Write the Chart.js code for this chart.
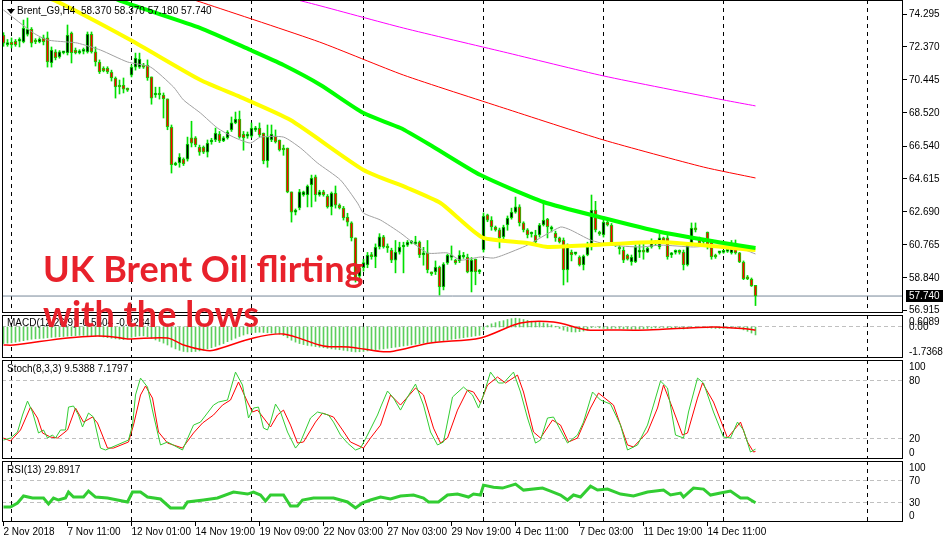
<!DOCTYPE html>
<html lang="en">
<head>
<meta charset="UTF-8" />
<title>Brent_G9,H4</title>
<script src="https://cdn.jsdelivr.net/npm/chart.js"></script>
<style>
  * { box-sizing: border-box; }
  html, body { margin: 0; padding: 0; background: #fff; }
  #wrap {
    position: relative; width: 943px; height: 542px; overflow: hidden; background: #fff;
    font-family: 'Liberation Sans', Arial, sans-serif; font-size: 10px; color: #000;
  }
  canvas { position: absolute; left: 0; }
  .ttl { position: absolute; left: 7px; white-space: nowrap; line-height: 12px; z-index: 2; }
  .tri { position: absolute; left: 7px; top: 9px; width: 0; height: 0; z-index: 2;
    border-left: 4px solid transparent; border-right: 4px solid transparent; border-top: 5px solid #000; }
  .big { position: absolute; z-index: 3; white-space: nowrap; line-height: 36px;
    font-family: Lato, 'Open Sans', sans-serif; font-weight: 700; font-size: 36px; color: #e8212b; }
</style>
</head>
<body>
<div id="wrap">
  <canvas id="cMain" width="943" height="314" style="top:0"></canvas>
  <canvas id="cMacd" width="943" height="43" style="top:315px"></canvas>
  <canvas id="cStoch" width="943" height="99" style="top:360px"></canvas>
  <canvas id="cRsi" width="943" height="81" style="top:461px"></canvas>

  <div class="tri"></div>
  <div class="ttl" style="left:17px; top:5px">Brent_G9,H4&nbsp; 58.370 58.370 57.180 57.740</div>
  <div class="ttl" style="top:317px">MACD(12,26,9) -0.5504 -0.2284</div>
  <div class="ttl" style="top:363px">Stoch(8,3,3) 9.5388 7.1797</div>
  <div class="ttl" style="top:464px">RSI(13) 29.8917</div>

  <div class="big" style="left:43px; top:250px">UK Brent Oil flirting</div>
  <div class="big" style="left:43px; top:295px">with the lows</div>
</div>

<script>
// ---- price candles (H4), bar index 0..188 ----
const candleO = [
  73.06, 72.50, 72.65, 72.71, 72.70, 72.65, 73.10, 73.41, 72.77, 72.65,
  72.89, 72.89, 71.42, 72.07, 71.77, 72.01, 72.01, 73.18, 72.18, 72.01,
  72.10, 72.07, 73.12, 72.07, 71.48, 71.12, 71.12, 70.89, 70.54, 70.13,
  70.13, 69.89, 70.71, 71.18, 71.18, 71.30, 71.30, 70.60, 69.54, 69.66,
  69.54, 69.31, 67.66, 65.43, 65.55, 65.78, 65.78, 67.02, 67.02, 66.49,
  66.49, 66.19, 66.78, 66.90, 67.25, 66.84, 67.02, 67.49, 67.90, 68.13,
  67.25, 67.13, 67.13, 67.49, 67.60, 67.31, 65.67, 66.90, 67.13, 66.90,
  66.43, 66.43, 63.85, 62.67, 62.91, 63.67, 63.67, 64.26, 64.73, 63.67,
  63.85, 63.61, 62.97, 63.79, 63.08, 62.91, 62.38, 62.03, 61.15, 58.90,
  59.40, 59.56, 60.15, 60.03, 60.62, 61.21, 60.62, 60.44, 59.85, 60.32,
  60.62, 60.73, 60.85, 60.80, 60.91, 60.15, 60.27, 59.09, 59.15, 59.44,
  58.27, 59.68, 60.00, 59.85, 59.80, 60.03, 60.03, 59.15, 59.91, 59.15,
  60.44, 62.50, 62.20, 61.79, 61.62, 61.21, 61.91, 62.32, 62.67, 62.97,
  62.03, 61.62, 61.38, 61.32, 61.32, 61.91, 62.26, 61.67, 61.44, 61.15,
  61.03, 59.27, 60.32, 60.21, 60.03, 59.56, 60.15, 60.62, 62.79, 61.50,
  61.32, 62.08, 61.91, 60.73, 60.56, 60.44, 60.15, 59.74, 59.74, 60.32,
  60.44, 60.32, 60.62, 60.85, 60.62, 61.15, 61.15, 60.15, 60.30, 60.38,
  60.32, 59.56, 60.85, 61.73, 61.15, 60.97, 61.50, 60.91, 60.15, 60.27,
  60.30, 60.36, 60.27, 60.85, 60.27, 59.74, 58.86, 58.74, 58.37
];
const candleH = [
  73.20, 72.80, 72.89, 72.80, 72.90, 73.94, 74.06, 73.50, 72.85, 72.90,
  73.06, 73.24, 72.36, 72.20, 72.15, 72.10, 73.65, 73.24, 72.30, 72.20,
  72.30, 73.24, 73.24, 72.36, 71.60, 71.20, 71.20, 71.00, 70.60, 70.42,
  70.54, 69.95, 71.30, 72.00, 72.00, 71.40, 71.60, 70.60, 70.00, 70.00,
  69.66, 69.31, 67.78, 65.60, 66.10, 65.85, 67.07, 68.00, 67.10, 66.60,
  66.55, 66.90, 67.00, 67.60, 67.40, 67.10, 67.45, 68.25, 68.54, 68.60,
  67.40, 67.37, 67.90, 67.70, 67.90, 67.31, 67.78, 67.78, 67.49, 66.90,
  66.60, 66.43, 63.85, 62.85, 64.00, 63.90, 64.26, 64.84, 64.84, 63.95,
  63.95, 63.70, 63.85, 64.20, 63.15, 63.00, 62.60, 62.10, 61.15, 59.60,
  59.90, 60.30, 60.30, 60.80, 61.40, 61.30, 60.80, 60.55, 61.00, 60.90,
  60.90, 61.00, 61.00, 61.25, 60.97, 60.60, 61.00, 59.15, 59.80, 59.50,
  59.70, 60.20, 60.68, 59.90, 60.40, 60.30, 60.20, 60.00, 59.91, 59.30,
  62.62, 62.55, 62.40, 61.85, 61.73, 61.90, 62.44, 62.90, 63.55, 63.10,
  62.10, 61.70, 61.50, 61.60, 62.00, 63.26, 62.30, 61.85, 61.55, 61.20,
  61.15, 60.80, 60.44, 60.30, 60.10, 60.15, 60.90, 63.67, 63.30, 61.55,
  62.20, 62.15, 62.00, 60.85, 60.85, 60.60, 60.20, 60.15, 60.75, 60.80,
  60.80, 60.60, 61.10, 61.00, 61.40, 61.20, 61.30, 60.30, 60.45, 60.45,
  60.44, 60.80, 62.03, 62.03, 61.20, 61.00, 61.50, 61.00, 60.20, 60.35,
  60.40, 60.45, 61.00, 61.03, 60.30, 59.80, 58.95, 58.80, 58.37
];
const candleL = [
  72.40, 72.40, 72.30, 72.40, 72.36, 72.60, 73.00, 72.36, 72.55, 72.60,
  72.48, 71.18, 71.18, 71.60, 71.70, 71.95, 71.89, 71.42, 71.95, 71.95,
  71.95, 72.00, 72.00, 71.24, 70.80, 70.90, 70.80, 70.36, 69.36, 69.60,
  69.66, 69.75, 70.60, 71.00, 71.10, 71.10, 70.40, 69.00, 69.40, 69.30,
  68.19, 67.50, 64.96, 65.40, 65.30, 65.40, 65.66, 66.49, 66.50, 66.00,
  66.10, 65.90, 66.65, 66.80, 66.75, 66.80, 66.95, 67.40, 67.85, 67.00,
  66.30, 67.00, 67.05, 67.40, 67.10, 65.50, 65.30, 66.80, 66.72, 66.25,
  66.00, 63.80, 62.08, 62.50, 62.80, 63.60, 62.97, 62.97, 63.30, 63.60,
  63.60, 62.90, 62.50, 62.90, 62.85, 62.20, 61.85, 60.97, 58.56, 58.60,
  59.20, 59.40, 59.90, 59.40, 60.50, 60.55, 60.30, 59.70, 59.10, 60.20,
  59.10, 60.65, 60.80, 60.75, 60.00, 59.55, 59.10, 58.95, 59.00, 57.80,
  58.10, 59.60, 59.85, 59.60, 59.70, 59.95, 59.10, 57.98, 58.40, 59.05,
  60.32, 62.10, 61.60, 61.55, 60.56, 61.10, 61.60, 62.25, 62.60, 61.85,
  61.50, 61.15, 61.20, 60.75, 61.20, 61.85, 61.15, 61.50, 60.95, 60.85,
  58.39, 58.56, 59.80, 60.15, 59.50, 59.27, 60.10, 60.44, 61.50, 61.30,
  61.20, 61.85, 60.70, 60.65, 60.20, 59.70, 59.85, 59.55, 59.70, 60.00,
  59.90, 60.30, 60.55, 60.70, 60.50, 60.85, 59.90, 60.00, 60.20, 60.20,
  59.27, 59.50, 60.73, 61.50, 60.80, 60.80, 60.50, 59.90, 59.95, 60.20,
  60.25, 60.30, 60.20, 60.20, 59.70, 58.70, 58.70, 58.30, 57.18
];
const candleC = [
  72.59, 72.62, 72.48, 72.48, 72.77, 73.47, 73.40, 72.59, 72.65, 72.83,
  72.65, 71.48, 72.18, 71.71, 72.07, 72.07, 73.06, 72.01, 72.01, 72.13,
  72.18, 73.12, 72.07, 71.48, 70.89, 70.95, 70.89, 70.54, 70.01, 70.01,
  69.89, 69.83, 71.18, 71.71, 71.65, 71.18, 70.54, 69.36, 69.66, 69.54,
  69.31, 67.66, 65.43, 65.55, 65.90, 65.49, 66.66, 66.72, 66.61, 66.19,
  66.19, 66.72, 66.90, 67.31, 66.84, 67.02, 67.37, 67.90, 68.13, 67.07,
  67.02, 67.25, 67.60, 67.60, 67.19, 65.67, 67.07, 67.25, 66.78, 66.31,
  66.31, 63.85, 62.67, 62.70, 63.85, 63.85, 64.20, 64.67, 63.67, 63.85,
  63.67, 62.97, 63.79, 63.08, 62.91, 62.32, 62.08, 61.15, 58.80, 59.40,
  59.70, 60.15, 60.05, 60.62, 61.21, 60.62, 60.56, 59.85, 60.32, 60.62,
  60.73, 60.91, 60.91, 60.91, 60.15, 60.27, 59.27, 59.05, 59.44, 58.27,
  59.62, 60.15, 60.15, 59.68, 60.15, 60.15, 59.15, 59.85, 59.15, 59.20,
  62.44, 62.20, 61.79, 61.62, 61.15, 61.79, 62.32, 62.67, 62.97, 62.03,
  61.62, 61.32, 61.44, 60.91, 61.91, 62.20, 61.79, 61.73, 61.15, 60.91,
  59.27, 60.73, 60.15, 60.27, 59.56, 60.09, 60.62, 62.79, 61.62, 61.38,
  62.08, 61.91, 60.85, 60.78, 60.50, 59.85, 59.91, 60.03, 60.62, 60.44,
  60.32, 60.56, 60.85, 60.91, 61.15, 60.91, 60.03, 60.27, 60.38, 60.30,
  59.56, 60.73, 61.73, 61.62, 60.85, 60.91, 60.73, 60.03, 60.03, 60.32,
  60.34, 60.40, 60.85, 60.27, 59.74, 58.74, 58.74, 58.33, 57.74
];

// ---- moving averages on price (bar index / price) ----
const maGrayIdx = [0, 7.5, 11, 16, 18.5, 24.25, 31, 36.75, 42.5, 45, 49.25, 53.5, 57.5, 61.75, 64.25, 70, 74.25, 78.5, 84.25, 88.5, 90, 94.25, 99.25, 106, 111, 114.25, 119.25, 122.5, 125, 131, 139.25, 141.75, 146.75, 151.75, 159.25, 164.25, 172.5, 181.75, 188];
const maGrayVal = [74.53, 73.18, 72.77, 72.65, 72.59, 72.18, 71.48, 71.18, 70.01, 69.25, 68.48, 67.60, 67.07, 66.72, 67.07, 67.07, 66.43, 65.55, 64.55, 63.20, 62.61, 62.20, 61.44, 60.27, 60.27, 59.85, 60.03, 59.97, 60.15, 60.73, 61.79, 61.62, 61.03, 60.73, 60.62, 60.73, 60.62, 60.73, 60.21];
const maYellowIdx = [5, 12.5, 31.75, 49.25, 59.25, 71.75, 90, 101, 109.25, 114.25, 120, 131, 136, 147.5, 164.25, 188];
const maYellowVal = [75.60, 75.12, 72.77, 70.42, 69.42, 68.07, 65.14, 64.08, 63.20, 62.20, 61.15, 60.85, 60.62, 60.73, 60.91, 60.44];
const maGreenIdx = [20, 30, 49.25, 61.75, 70, 79.25, 90, 99.25, 107.5, 119.25, 135, 150, 164.25, 180, 188];
const maGreenVal = [76.00, 75.00, 73.47, 72.18, 71.30, 70.13, 68.48, 67.60, 66.49, 64.84, 63.26, 62.32, 61.50, 60.85, 60.56];
const maRedIdx = [40, 50, 79, 100, 125, 150, 175, 188];
const maRedVal = [75.70, 74.94, 72.65, 70.71, 68.78, 66.90, 65.31, 64.67];
const maMagentaIdx = [60, 77, 100, 125, 150, 180, 188];
const maMagentaVal = [75.90, 74.91, 73.47, 72.07, 70.66, 69.25, 68.90];

// ---- MACD(12,26,9): histogram per bar, signal line ----
const macdHist = [
  -1.15, -1.12, -1.10, -1.05, -1.00, -0.95,
  -0.90, -0.85, -0.82, -0.80, -0.78, -0.75, -0.72, -0.70, -0.68, -0.66,
  -0.64, -0.62, -0.60, -0.58, -0.58, -0.60, -0.62, -0.64, -0.66, -0.70,
  -0.74, -0.78, -0.82, -0.85, -0.88, -0.80, -0.72, -0.66, -0.62, -0.62,
  -0.68, -0.78, -0.90, -1.00, -1.12, -1.25, -1.40, -1.52, -1.62, -1.70,
  -1.73, -1.72, -1.70, -1.66, -1.60, -1.52, -1.44, -1.35, -1.25, -1.15,
  -1.02, -0.90, -0.78, -0.66, -0.56, -0.48, -0.42, -0.38, -0.36, -0.38,
  -0.40, -0.42, -0.45, -0.50, -0.60, -0.75, -0.92, -1.05, -1.15, -1.22,
  -1.28, -1.32, -1.36, -1.40, -1.44, -1.48, -1.52, -1.55, -1.58, -1.62,
  -1.66, -1.70, -1.73, -1.72, -1.70, -1.66, -1.62, -1.58, -1.55, -1.52,
  -1.48, -1.44, -1.40, -1.36, -1.32, -1.28, -1.24, -1.20, -1.16, -1.12,
  -1.08, -1.05, -1.02, -0.98, -0.94, -0.90, -0.86, -0.82, -0.78, -0.74,
  -0.70, -0.66, -0.62, -0.58, -0.20, 0.10, 0.22, 0.30, 0.38, 0.44,
  0.52, 0.58, 0.61, 0.58, 0.52, 0.46, 0.40, 0.36, 0.32, 0.28,
  0.22, 0.14, 0.05, -0.10, -0.22, -0.30, -0.34, -0.35, -0.32, -0.28,
  -0.22, -0.05, -0.02, -0.06, -0.10, -0.12, -0.10, -0.08, -0.10, -0.12,
  -0.14, -0.16, -0.16, -0.14, -0.12, -0.10, -0.08, -0.06, -0.04, -0.03,
  -0.05, -0.08, -0.10, -0.12, -0.14, -0.10, -0.04, 0.00, -0.02, -0.04,
  -0.06, -0.08, -0.10, -0.10, -0.10, -0.09, -0.06, -0.08, -0.12, -0.20,
  -0.30, -0.42, -0.55
];
const macdSigIdx = [0, 2.5, 16, 23.5, 27.5, 31, 41, 45, 50, 52.5, 62.5, 70, 80, 86.75, 94.25, 97.5, 106.75, 119.25, 129.25, 137.5, 146, 151, 161, 177.5, 186, 188];
const macdSigVal = [-1.25, -1.25, -0.76, -0.63, -0.69, -0.83, -0.76, -1.25, -1.60, -1.62, -0.76, -0.49, -1.32, -1.40, -1.70, -1.68, -1.11, -0.76, 0.28, 0.35, -0.21, -0.21, -0.21, 0.00, -0.14, -0.23];

// ---- Stochastic(8,3,3) ----
const stochKIdx = [0, 1.75, 3.5, 4.75, 6, 7.25, 8.75, 10, 11, 12.25, 13, 14.25, 15.5, 16.25, 17.5, 18.75, 19.75, 21.25, 22.5, 24.25, 25.5, 31.25, 32.25, 33, 34.25, 36, 37.5, 39.25, 41, 44.75, 47.5, 49.25, 52.5, 53.75, 56, 58, 59.75, 61.25, 62.5, 63.75, 65, 66, 66.75, 68, 69.25, 71, 73, 74.25, 76.75, 78.5, 81.25, 82.5, 84.25, 86, 88, 89.25, 91, 93.5, 94.5, 96, 97.5, 99.25, 101, 103, 105, 106.75, 108.5, 110, 112.25, 115, 117.25, 118.75, 120, 121.75, 123.75, 125, 127.5, 129.25, 131, 133, 134.25, 136, 137.5, 141, 143.5, 145, 147.25, 149.25, 151.75, 154.25, 156, 158.5, 161, 162.5, 164.25, 166, 168, 170, 171.25, 173.5, 175, 177.5, 180, 181.75, 183.5, 185, 186.75, 188];
const stochKVal = [18.9, 21.0, 27.2, 44.8, 59.2, 47.9, 26.2, 29.3, 21.0, 24.1, 21.0, 29.3, 29.3, 53.0, 54.1, 44.8, 32.4, 46.8, 42.7, 10.6, 8.6, 18.9, 34.4, 65.5, 83.0, 73.7, 44.8, 13.8, 16.9, 8.6, 34.4, 37.5, 55.1, 58.2, 60.3, 89.2, 75.8, 41.7, 52.0, 53.0, 31.3, 29.3, 37.5, 56.1, 47.9, 27.2, 10.6, 16.9, 41.7, 47.9, 44.8, 37.5, 24.1, 15.8, 8.6, 10.6, 24.1, 44.8, 55.1, 69.6, 62.3, 49.9, 63.4, 76.8, 55.1, 27.2, 13.8, 16.9, 63.4, 73.7, 65.5, 52.0, 65.5, 89.2, 77.9, 77.9, 89.2, 68.6, 41.7, 15.8, 18.9, 41.7, 42.7, 15.8, 24.1, 37.5, 68.6, 60.3, 56.1, 34.4, 8.6, 13.8, 34.4, 55.1, 79.9, 72.7, 24.1, 21.0, 47.9, 83.0, 77.9, 47.9, 22.0, 21.0, 37.5, 29.3, 6.5, 9.54];
const stochDIdx = [0, 1.75, 4.25, 6.75, 8.5, 9.75, 11.75, 13.5, 16, 18, 20, 22.25, 23.5, 26, 27.5, 31.25, 32.5, 34.25, 35.5, 37.25, 38.75, 41, 44.75, 47.5, 49.75, 52.5, 54.75, 56.75, 58.75, 61, 62.25, 63.5, 66.75, 68.5, 70, 71.75, 73.5, 75, 78, 79.75, 82.5, 84.75, 86.75, 90, 91.75, 94.25, 96.75, 99.25, 103, 105, 107.5, 109.25, 111, 113.5, 116, 117.5, 119.25, 121, 123.5, 125.5, 128.5, 130, 132.5, 134.25, 137.25, 139.25, 141.25, 143.5, 146.75, 148.75, 152.5, 156, 157.5, 161, 163.5, 165, 167.25, 169.75, 171, 173.5, 174.75, 177.5, 181, 184.25, 186, 187.5, 188];
const stochDVal = [21.0, 17.9, 29.3, 53.0, 41.7, 26.2, 22.0, 21.0, 29.3, 52.0, 37.5, 42.7, 36.5, 10.6, 10.6, 16.9, 34.4, 65.5, 74.8, 62.3, 27.2, 15.8, 10.6, 26.2, 36.5, 44.8, 55.1, 60.3, 78.9, 58.2, 47.9, 49.9, 32.4, 44.8, 49.9, 34.4, 15.8, 16.9, 37.5, 46.8, 42.7, 29.3, 16.9, 10.6, 21.0, 34.4, 65.5, 55.1, 72.7, 65.5, 31.3, 15.8, 21.0, 49.9, 70.6, 68.6, 57.2, 75.8, 84.1, 77.9, 86.1, 68.6, 27.2, 21.0, 39.6, 34.4, 16.9, 21.0, 52.0, 67.5, 55.1, 13.8, 11.7, 27.2, 52.0, 75.8, 52.0, 24.1, 26.2, 62.3, 77.9, 58.2, 21.0, 37.5, 16.9, 6.5, 7.18];

// ---- RSI(13) ----
const rsiIdx = [0, 1.75, 3.5, 5, 7.25, 10, 11.25, 12.5, 13.75, 15.5, 16.25, 17.5, 20, 21.25, 23, 26, 31, 32.25, 34.25, 36, 39.25, 41.75, 45, 46, 50, 53.5, 57.5, 61, 62.5, 64.25, 65.5, 66.75, 70, 71.75, 73.5, 74.75, 77.5, 82.5, 86, 88, 89.75, 91.75, 94.25, 96.75, 99.25, 102.5, 105, 106.25, 108.75, 111, 113.5, 116.25, 117.5, 119.25, 120, 122.5, 124.75, 128, 130, 134.75, 136.75, 139.25, 141, 142.5, 144.25, 146.75, 148.5, 151, 154.25, 157.5, 161, 165, 166.75, 169.25, 170, 172.5, 175, 176.75, 179.25, 181.75, 184.25, 186, 188];
const rsiVal = [22.3, 22.3, 29.5, 42.0, 38.4, 38.4, 27.7, 38.4, 34.8, 38.4, 49.1, 40.2, 40.2, 50.9, 40.2, 38.4, 31.3, 49.1, 49.1, 40.2, 36.6, 20.5, 20.5, 31.3, 34.8, 38.4, 49.1, 45.5, 49.1, 43.8, 33.0, 43.8, 43.8, 24.1, 24.1, 34.8, 38.4, 38.4, 31.3, 20.5, 29.5, 34.8, 40.2, 36.6, 42.0, 43.8, 38.4, 31.3, 31.3, 43.8, 45.5, 40.2, 45.5, 43.8, 61.6, 58.0, 56.3, 63.4, 52.7, 56.3, 50.9, 43.8, 34.8, 43.8, 40.2, 59.8, 52.7, 54.5, 45.5, 42.0, 49.1, 52.7, 43.8, 47.3, 40.2, 56.3, 54.5, 43.8, 47.3, 50.9, 38.4, 38.4, 29.89];

// ---- axes ----
const sepIdx = [2, 32, 62, 90, 120, 150, 180, 216];
const xTickIdx = [0, 16, 32, 48, 64, 80, 96, 112, 128, 144, 160, 176];
const xTickText = ['2 Nov 2018', '7 Nov 11:00', '12 Nov 01:00', '14 Nov 19:00', '19 Nov 09:00', '22 Nov 03:00',
  '27 Nov 03:00', '29 Nov 19:00', '4 Dec 11:00', '7 Dec 03:00', '11 Dec 19:00', '14 Dec 11:00'];
const priceTicks = [74.295, 72.370, 70.445, 68.520, 66.540, 64.615, 62.690, 60.765, 58.840, 56.915];
const macdTicks = [0.6089, 0, -1.7368];
const macdTickText = ['0.6089', '0.00', '-1.7368'];
const stochTicks = [100, 80, 20, 0];
const rsiTicks = [100, 70, 30, 0];

const X_MIN = -0.375, X_MAX = 224.875;
const GREEN = '#00e000';
const FONT = '10px "Liberation Sans", Arial, sans-serif';

const pts = (xs, ys) => xs.map((x, k) => ({ x: x, y: ys[k] }));

// panel frame, separators, level lines and right-hand labels (MT4 style)
const panelPlugin = {
  id: 'panel',
  beforeDatasetsDraw(chart, args, o) {
    const { ctx, chartArea: a } = chart;
    const xs = chart.scales.x, ys = chart.scales.y;
    ctx.save();
    ctx.beginPath();
    ctx.rect(a.left, a.top, a.right - a.left, a.bottom - a.top);
    ctx.clip();
    ctx.lineWidth = 1;
    ctx.strokeStyle = '#c0c0c0';
    ctx.setLineDash([4, 3]);
    (o.levels || []).forEach(v => {
      const py = Math.floor(ys.getPixelForValue(v)) + 0.5;
      ctx.beginPath(); ctx.moveTo(a.left, py); ctx.lineTo(a.right, py); ctx.stroke();
    });
    ctx.strokeStyle = '#000';
    ctx.setLineDash([4, 4]);
    sepIdx.forEach(i => {
      const px = Math.floor(xs.getPixelForValue(i)) + 0.5;
      ctx.beginPath(); ctx.moveTo(px, a.top); ctx.lineTo(px, a.bottom); ctx.stroke();
    });
    ctx.restore();
  },
  afterDraw(chart, args, o) {
    const { ctx, chartArea: a } = chart;
    const ys = chart.scales.y;
    ctx.save();
    ctx.strokeStyle = '#000';
    ctx.lineWidth = 1;
    ctx.setLineDash([]);
    ctx.strokeRect(a.left + 0.5, a.top + 0.5, a.right - a.left - 1, a.bottom - a.top - 1);
    ctx.font = FONT;
    ctx.fillStyle = '#000';
    ctx.textBaseline = 'middle';
    ctx.textAlign = 'left';
    const vals = o.ticks || [];
    vals.forEach((v, k) => {
      let py = ys.getPixelForValue(v);
      if (o.ticksMarks) {
        const ty = Math.floor(py) + 0.5;
        ctx.beginPath(); ctx.moveTo(a.right, ty); ctx.lineTo(a.right + 4, ty); ctx.stroke();
      }
      if (o.clamp) py = Math.min(Math.max(py, a.top + 7), a.bottom - 6);
      const txt = o.text ? o.text[k] : (o.dec != null ? v.toFixed(o.dec) : String(v));
      ctx.fillText(txt, a.right + 6, py + 0.5);
    });
    if (o.tag != null) {
      const py = Math.round(ys.getPixelForValue(o.tag));
      ctx.fillStyle = '#000';
      ctx.fillRect(a.right + 3, py - 6, 40, 12);
      ctx.fillStyle = '#fff';
      ctx.fillText(o.tag.toFixed(3), a.right + 6, py + 0.5);
    }
    ctx.restore();
  }
};
Chart.register(panelPlugin);

function xScale(show) {
  const s = { type: 'linear', min: X_MIN, max: X_MAX, offset: false, display: false, grid: { offset: false } };
  if (show) {
    Object.assign(s, {
      display: true,
      position: 'bottom',
      border: { display: false },
      grid: { offset: false, drawOnChartArea: false, drawTicks: true, tickLength: 4, color: '#000' },
      ticks: {
        align: 'start', maxRotation: 0, autoSkip: false, padding: 1, color: '#000',
        font: { family: '"Liberation Sans", Arial, sans-serif', size: 10, lineHeight: 1 },
        callback: (v, k) => xTickText[k]
      },
      afterBuildTicks: sc => { sc.ticks = xTickIdx.map(v => ({ value: v })); },
      afterFit: sc => { sc.height = 20; }
    });
  }
  return s;
}

function opts(yMin, yMax, panel, showX) {
  return {
    responsive: false,
    animation: false,
    devicePixelRatio: 1,
    events: [],
    layout: { padding: { left: 2, right: 40, top: 0, bottom: panel.padBottom || 0 } },
    scales: {
      x: xScale(showX),
      y: { min: yMin, max: yMax, display: false, beginAtZero: false }
    },
    plugins: { legend: { display: false }, tooltip: { enabled: false }, panel: panel }
  };
}

function maLine(xs, ys, color, width, order) {
  return { type: 'line', data: pts(xs, ys), borderColor: color, borderWidth: width,
    pointRadius: 0, tension: 0.2, order: order };
}

// main price panel
const lastPrice = candleC[candleC.length - 1];
new Chart(document.getElementById('cMain'), {
  type: 'bar',
  data: {
    datasets: [
      maLine(maGrayIdx, maGrayVal, '#a0a0a0', 1, 4),
      maLine(maRedIdx, maRedVal, '#ff0000', 1, 3),
      maLine(maMagentaIdx, maMagentaVal, '#ff00ff', 1, 3),
      maLine(maYellowIdx, maYellowVal, '#ffff00', 4, 2),
      maLine(maGreenIdx, maGreenVal, '#00ff00', 4, 1),
      { type: 'line', data: [{ x: X_MIN, y: lastPrice }, { x: X_MAX, y: lastPrice }],
        borderColor: '#778899', borderWidth: 1, pointRadius: 0, order: 30 },
      { type: 'bar', data: candleO.map((o, i) => ({ x: i, y: [candleL[i], candleH[i]] })),
        backgroundColor: GREEN, barThickness: 1, grouped: false, order: 20 },
      { type: 'bar', data: candleO.map((o, i) => ({ x: i, y: [o, candleC[i]] })),
        backgroundColor: c => (candleC[c.dataIndex] >= candleO[c.dataIndex] ? '#000000' : '#ff0000'),
        borderColor: GREEN, borderWidth: 1, borderSkipped: false, barThickness: 3, minBarLength: 2,
        grouped: false, order: 10 }
    ]
  },
  options: opts(56.744, 75.117, { ticks: priceTicks, dec: 3, ticksMarks: true, tag: lastPrice, padBottom: 1 }, false)
});

// MACD panel
new Chart(document.getElementById('cMacd'), {
  type: 'bar',
  data: {
    datasets: [
      { type: 'line', data: pts(macdSigIdx, macdSigVal), borderColor: '#ff0000', borderWidth: 1.5,
        pointRadius: 0, tension: 0.3, order: 1 },
      { type: 'bar', data: macdHist.map((v, i) => ({ x: i, y: v })), backgroundColor: '#5ccf5c',
        barThickness: 1, grouped: false, order: 5 }
    ]
  },
  options: opts(-2.153, 0.833, { ticks: macdTicks, text: macdTickText, levels: [0], clamp: true }, false)
});

// Stochastic panel
new Chart(document.getElementById('cStoch'), {
  type: 'line',
  data: {
    datasets: [
      { data: pts(stochDIdx, stochDVal), borderColor: '#ff0000', borderWidth: 1, pointRadius: 0, order: 2 },
      { data: pts(stochKIdx, stochKVal), borderColor: '#32cd32', borderWidth: 1, pointRadius: 0, order: 1 }
    ]
  },
  options: opts(-0.7, 101.7, { ticks: stochTicks, levels: [80, 20], clamp: true }, false)
});

// RSI panel with the time axis
new Chart(document.getElementById('cRsi'), {
  type: 'line',
  data: {
    datasets: [
      { data: pts(rsiIdx, rsiVal), borderColor: '#32cd32', borderWidth: 3, pointRadius: 0 }
    ]
  },
  options: opts(-4.8, 105.1, { ticks: rsiTicks, levels: [70, 30], clamp: true }, true)
});
</script>
</body>
</html>
